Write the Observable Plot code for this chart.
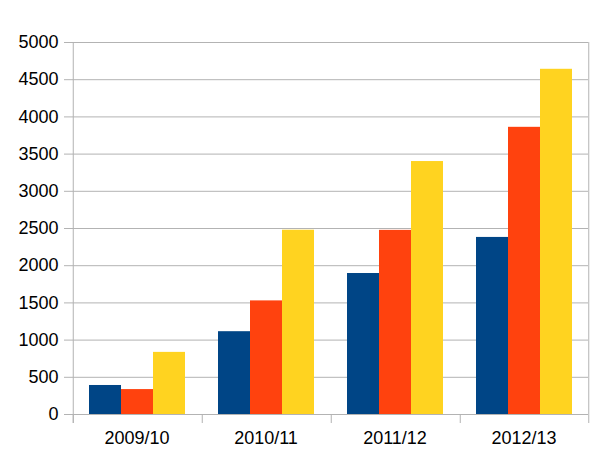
<!DOCTYPE html>
<html>
<head>
<meta charset="utf-8">
<script src="https://cdn.jsdelivr.net/npm/d3@7"></script>
<script src="https://cdn.jsdelivr.net/npm/@observablehq/plot@0.6"></script>
<style>
  html, body { margin: 0; padding: 0; background: #fff; }
  #chart svg { display: block; }
</style>
</head>
<body>
<div id="chart"></div>
<script>
const categories = ["2009/10", "2010/11", "2011/12", "2012/13"];
const seriesNames = ["Series 1", "Series 2", "Series 3"];
const series1 = [390, 1113, 1895, 2380];
const series2 = [335, 1527, 2475, 3860];
const series3 = [835, 2477, 3400, 4640];
const seriesColors = ["#004586", "#ff420e", "#ffd320"];
const yTicks = d3.range(0, 5001, 500);

const allSeries = [series1, series2, series3];
const data = [];
categories.forEach((c, i) => {
  seriesNames.forEach((s, j) => data.push({cat: c, series: s, value: allSeries[j][i]}));
});

const W = 614, H = 476;
const mL = 72, mR = 26, mT = 42, mB = 62;
const facetW = (W - mL - mR) / categories.length;
const step = facetW / (seriesNames.length + 1);
const tickLen = 9;
const yMax = 5000;
const belowVal = -tickLen / (H - mT - mB) * yMax;
const gridColor = "#b3b3b3";
const font = "Liberation Sans, Arial, sans-serif";

const catRows = categories.map(c => ({cat: c}));

const chart = Plot.plot({
  width: W,
  height: H,
  marginLeft: mL,
  marginRight: mR,
  marginTop: mT,
  marginBottom: mB,
  style: {fontFamily: font, fontSize: "18px", color: "#000", background: "#fff", overflow: "visible"},
  fx: {domain: categories, padding: 0, label: null, axis: null},
  x: {domain: seriesNames, paddingInner: 0, paddingOuter: 0.5, axis: null},
  y: {domain: [0, yMax], label: null, axis: null},
  color: {domain: seriesNames, range: seriesColors},
  marks: [
    Plot.gridY(yTicks, {stroke: gridColor, strokeOpacity: 1, strokeWidth: 1}),
    Plot.axisY(yTicks, {anchor: "left", tickSize: 8, tickPadding: 6, tickFormat: d => String(d), stroke: gridColor, strokeOpacity: 1, fill: "#000", fontSize: 18, label: null}),
    Plot.axisFx({anchor: "bottom", tickSize: 0, tickPadding: 17, fontSize: 18, fill: "#000", label: null}),
    Plot.barY(data, {fx: "cat", x: "series", y: "value", fill: "series"}),
    Plot.ruleY([0], {stroke: gridColor}),
    // separators below the axis at the left edge of each category
    Plot.ruleX(catRows, {fx: "cat", x: () => seriesNames[0], dx: -step, y1: belowVal, y2: 0, stroke: gridColor}),
    // left axis line
    Plot.ruleX(catRows.slice(0, 1), {fx: "cat", x: () => seriesNames[0], dx: -step, y1: belowVal, y2: yMax, stroke: gridColor}),
    // right border line
    Plot.ruleX(catRows.slice(-1), {fx: "cat", x: () => seriesNames[seriesNames.length - 1], dx: step, y1: belowVal, y2: yMax, stroke: gridColor})
  ]
});
document.getElementById("chart").appendChild(chart);
</script>
</body>
</html>
